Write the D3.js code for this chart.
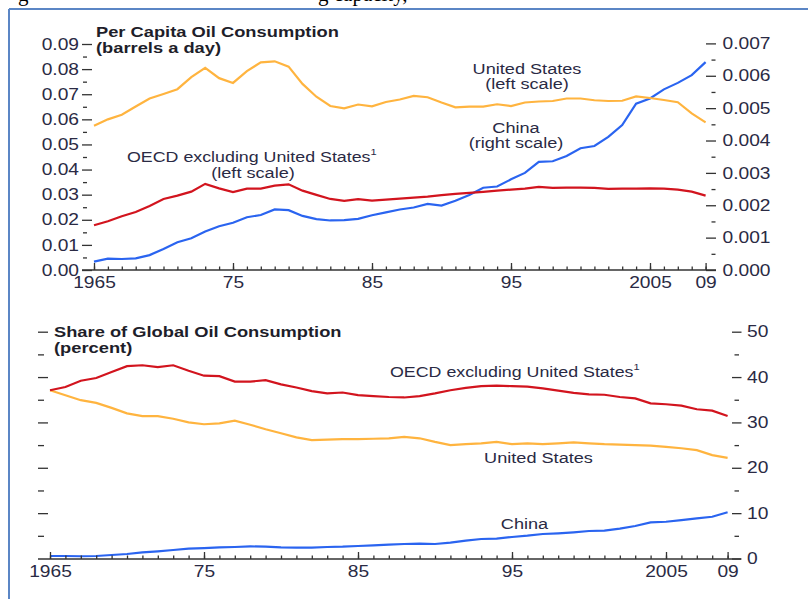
<!DOCTYPE html>
<html><head><meta charset="utf-8">
<script src="https://cdn.jsdelivr.net/npm/d3@7"></script>
<style>
html,body{margin:0;padding:0;background:#fff;}
svg{display:block;}
</style></head>
<body>
<svg id="c" width="808" height="599"></svg>
<script>
// ---------- data ----------
const years = d3.range(1965, 2010);
// Per capita oil consumption (barrels a day)
const usPerCapita = [0.0574,0.0600,0.0618,0.0651,0.0683,0.0701,0.0720,0.0768,0.0805,0.0764,
  0.0745,0.0792,0.0827,0.0831,0.0810,0.0741,0.0690,0.0653,0.0644,0.0659,
  0.0652,0.0669,0.0679,0.0693,0.0688,0.0667,0.0648,0.0651,0.0651,0.0660,
  0.0653,0.0667,0.0671,0.0673,0.0683,0.0683,0.0676,0.0673,0.0674,0.0691,
  0.0685,0.0677,0.0668,0.0624,0.0588];
const oecdPerCapita = [0.0178,0.0194,0.0214,0.0231,0.0255,0.0283,0.0296,0.0312,0.0343,0.0325,
  0.0310,0.0324,0.0324,0.0336,0.0341,0.0316,0.0299,0.0283,0.0275,0.0282,
  0.0276,0.0280,0.0284,0.0288,0.0292,0.0298,0.0303,0.0307,0.0311,0.0316,
  0.0320,0.0324,0.0331,0.0327,0.0328,0.0328,0.0327,0.0323,0.0324,0.0324,
  0.0325,0.0324,0.0320,0.0312,0.0296];
const chinaPerCapita = [0.00026,0.00035,0.00034,0.00036,0.00046,0.00065,0.00086,0.00098,0.00119,0.00135,
  0.00146,0.00163,0.00170,0.00187,0.00185,0.00167,0.00157,0.00153,0.00154,0.00158,
  0.00169,0.00178,0.00187,0.00193,0.00204,0.00199,0.00214,0.00232,0.00254,0.00258,
  0.00280,0.00300,0.00334,0.00336,0.00352,0.00376,0.00383,0.00411,0.00448,0.00514,
  0.00530,0.00558,0.00578,0.00602,0.00642];
// Share of global oil consumption (percent)
const oecdShare = [37.1,37.8,39.2,39.8,41.1,42.4,42.6,42.2,42.6,41.4,
  40.3,40.2,39.0,39.0,39.3,38.4,37.7,36.9,36.4,36.6,
  36.0,35.8,35.6,35.5,35.8,36.4,37.1,37.6,38.0,38.1,
  38.0,37.9,37.5,37.0,36.5,36.2,36.1,35.6,35.3,34.2,
  34.0,33.7,32.9,32.6,31.4];
const usShare = [37.1,36.0,34.9,34.3,33.2,32.0,31.4,31.4,30.8,30.0,
  29.6,29.8,30.4,29.5,28.5,27.6,26.7,26.1,26.2,26.3,
  26.3,26.4,26.5,26.8,26.5,25.7,25.0,25.2,25.4,25.7,
  25.2,25.4,25.2,25.4,25.6,25.4,25.2,25.1,25.0,24.9,
  24.6,24.3,23.9,22.8,22.2];
const chinaShare = [0.55,0.55,0.5,0.55,0.77,0.99,1.36,1.58,1.87,2.16,
  2.3,2.45,2.53,2.67,2.6,2.45,2.38,2.38,2.53,2.6,
  2.75,2.9,3.05,3.2,3.27,3.2,3.49,3.93,4.3,4.37,
  4.74,5.03,5.4,5.55,5.77,6.06,6.13,6.57,7.16,7.97,
  8.1,8.48,8.85,9.2,10.2];
// tick labels
const xTickYears = [1965,1975,1985,1995,2005,2009];
const xTickLabels = ["1965","75","85","95","2005","09"];
const leftTopTicks = [0,0.01,0.02,0.03,0.04,0.05,0.06,0.07,0.08,0.09];
const rightTopTicks = [0,0.001,0.002,0.003,0.004,0.005,0.006,0.007];
const shareTicks = [0,10,20,30,40,50];

// ---------- style ----------
const C_US = "#FFB43F", C_OECD = "#D2141E", C_CN = "#2A64F0";
const TXT = "#2a2a44", AX = "#333";
const SX = 1.2;
const FONT = "'Liberation Sans', Arial, sans-serif";

const svg = d3.select("#c");

// frame + clipped document text
svg.append("line").attr("x1",9).attr("x2",808).attr("y1",9).attr("y2",9)
  .attr("stroke","#5B86C5").attr("stroke-width",2);
svg.append("line").attr("x1",9).attr("x2",9).attr("y1",9).attr("y2",599)
  .attr("stroke","#5B86C5").attr("stroke-width",2);
svg.append("text").attr("x",18).attr("y",0.5).attr("font-family","'Liberation Serif', serif")
  .attr("font-size",21).attr("fill","#000").text("g");
svg.append("text").attr("x",318).attr("y",0.5).attr("font-family","'Liberation Serif', serif")
  .attr("font-size",21).attr("fill","#000").text("g capacity,");

function label(x, y, str, o={}) {
  const t = svg.append("text")
    .attr("transform", `translate(${x},${y}) scale(${o.sx||SX},1)`)
    .attr("text-anchor", o.anchor||"start")
    .attr("font-family", FONT)
    .attr("font-size", o.size||15.5)
    .attr("font-weight", o.weight||"normal")
    .attr("fill", o.fill||TXT);
  t.append("tspan").text(str);
  if (o.sup) t.append("tspan").attr("font-size", (o.size||15.5)*0.62).attr("dy",-7).text(o.sup);
  return t;
}

function styleAxis(g, withText, sx) {
  g.select(".domain").remove();
  g.selectAll(".tick line").attr("stroke", AX).attr("stroke-width", 1.3);
  if (withText) {
    g.selectAll(".tick text")
      .attr("font-family", FONT).attr("font-size", 16).attr("fill", TXT)
      .attr("x", function(){ return (+this.getAttribute("x")||0)/sx; })
      .attr("transform", `scale(${sx},1)`);
  } else g.selectAll(".tick text").remove();
}

// ---------- top panel ----------
const x1 = d3.scaleLinear().domain([1965,2009]).range([94,705.6]);
const yL = d3.scaleLinear().domain([0,0.09]).range([270,44]);
const yR = d3.scaleLinear().domain([0,0.007]).range([270,43.4]);

const lineTop = (ys, sc) => d3.line().x((d,i)=>x1(years[i])).y(d=>sc(d))(ys);
svg.append("path").attr("d", lineTop(chinaPerCapita, yR)).attr("fill","none").attr("stroke",C_CN).attr("stroke-width",2.2);
svg.append("path").attr("d", lineTop(oecdPerCapita, yL)).attr("fill","none").attr("stroke",C_OECD).attr("stroke-width",2.2);
svg.append("path").attr("d", lineTop(usPerCapita, yL)).attr("fill","none").attr("stroke",C_US).attr("stroke-width",2.2);

// x axis top
svg.append("line").attr("x1",82).attr("x2",716).attr("y1",270).attr("y2",270).attr("stroke",AX).attr("stroke-width",1.5);
svg.append("g").attr("transform","translate(0,270)")
  .call(d3.axisBottom(x1).tickValues(years).tickSize(-3.5).tickFormat(""))
  .call(g=>styleAxis(g,false));
svg.append("g").attr("transform","translate(0,270)")
  .call(d3.axisBottom(x1).tickValues(xTickYears).tickSize(-7).tickPadding(7)
    .tickFormat((d,i)=>xTickLabels[i]))
  .call(g=>styleAxis(g,true,SX));

// left axis top
svg.append("g").attr("transform","translate(87,0)")
  .call(d3.axisLeft(yL).tickValues(leftTopTicks.slice(0,-1).map(v=>v+0.005)).tickSize(4).tickFormat(""))
  .call(g=>styleAxis(g,false));
svg.append("g").attr("transform","translate(92,0)")
  .call(d3.axisLeft(yL).tickValues(leftTopTicks).tickSize(10).tickPadding(3).tickFormat(d3.format(".2f")))
  .call(g=>styleAxis(g,true,SX));

// right axis top
svg.append("g").attr("transform","translate(711.5,0)")
  .call(d3.axisRight(yR).tickValues(rightTopTicks.slice(0,-1).map(v=>v+0.0005)).tickSize(4).tickFormat(""))
  .call(g=>styleAxis(g,false));
svg.append("g").attr("transform","translate(706,0)")
  .call(d3.axisRight(yR).tickValues(rightTopTicks).tickSize(10).tickPadding(6.5).tickFormat(d3.format(".3f")))
  .call(g=>styleAxis(g,true,SX));

// titles & labels top
label(96, 37, "Per Capita Oil Consumption", {size:15, weight:"bold", fill:"#1e1e2a", sx:1.22});
label(96, 52.5, "(barrels a day)", {size:15, weight:"bold", fill:"#1e1e2a", sx:1.22});
label(527, 74, "United States", {anchor:"middle", size:15, sx:1.21});
label(527, 89, "(left scale)", {anchor:"middle", size:15, sx:1.21});
label(516, 132.5, "China", {anchor:"middle", size:15, sx:1.21});
label(516, 148, "(right scale)", {anchor:"middle", size:15, sx:1.21});
label(127, 161.5, "OECD excluding United States", {sx:1.15, sup:"1"});
label(253, 178, "(left scale)", {anchor:"middle", size:15, sx:1.21});

// ---------- bottom panel ----------
const x2 = d3.scaleLinear().domain([1965,2009]).range([50,727.6]);
const y2 = d3.scaleLinear().domain([0,50]).range([558.5,331.7]);
const lineBot = ys => d3.line().x((d,i)=>x2(years[i])).y(d=>y2(d))(ys);
svg.append("path").attr("d", lineBot(chinaShare)).attr("fill","none").attr("stroke",C_CN).attr("stroke-width",2.2);
svg.append("path").attr("d", lineBot(usShare)).attr("fill","none").attr("stroke",C_US).attr("stroke-width",2.2);
svg.append("path").attr("d", lineBot(oecdShare)).attr("fill","none").attr("stroke",C_OECD).attr("stroke-width",2.2);

svg.append("line").attr("x1",38).attr("x2",741).attr("y1",559).attr("y2",559).attr("stroke",AX).attr("stroke-width",1.5);
svg.append("g").attr("transform","translate(0,559)")
  .call(d3.axisBottom(x2).tickValues(years).tickSize(-3.5).tickFormat(""))
  .call(g=>styleAxis(g,false));
svg.append("g").attr("transform","translate(0,559)")
  .call(d3.axisBottom(x2).tickValues(xTickYears).tickSize(-7).tickPadding(7)
    .tickFormat((d,i)=>xTickLabels[i]))
  .call(g=>styleAxis(g,true,SX));

// left ticks (no labels)
svg.append("g").attr("transform","translate(44,0)")
  .call(d3.axisLeft(y2).tickValues(shareTicks.slice(0,-1).map(v=>v+5)).tickSize(6).tickFormat(""))
  .call(g=>styleAxis(g,false));
svg.append("g").attr("transform","translate(48,0)")
  .call(d3.axisLeft(y2).tickValues(shareTicks.slice(1)).tickSize(10).tickFormat(""))
  .call(g=>styleAxis(g,false));
// right ticks
svg.append("g").attr("transform","translate(734.5,0)")
  .call(d3.axisRight(y2).tickValues(shareTicks.slice(0,-1).map(v=>v+5)).tickSize(4.5).tickFormat(""))
  .call(g=>styleAxis(g,false));
svg.append("g").attr("transform","translate(732,0)")
  .call(d3.axisRight(y2).tickValues(shareTicks).tickSize(9.5).tickPadding(5.5).tickFormat(d3.format("d")))
  .call(g=>styleAxis(g,true,SX));

label(54, 336.7, "Share of Global Oil Consumption", {size:15, weight:"bold", fill:"#1e1e2a", sx:1.22});
label(54, 353, "(percent)", {size:15, weight:"bold", fill:"#1e1e2a", sx:1.22});
label(390, 377, "OECD excluding United States", {sx:1.15, sup:"1"});
label(538.5, 462.5, "United States", {anchor:"middle", sx:1.17});
label(524.5, 529, "China", {anchor:"middle", sx:1.17});
</script>
</body></html>
